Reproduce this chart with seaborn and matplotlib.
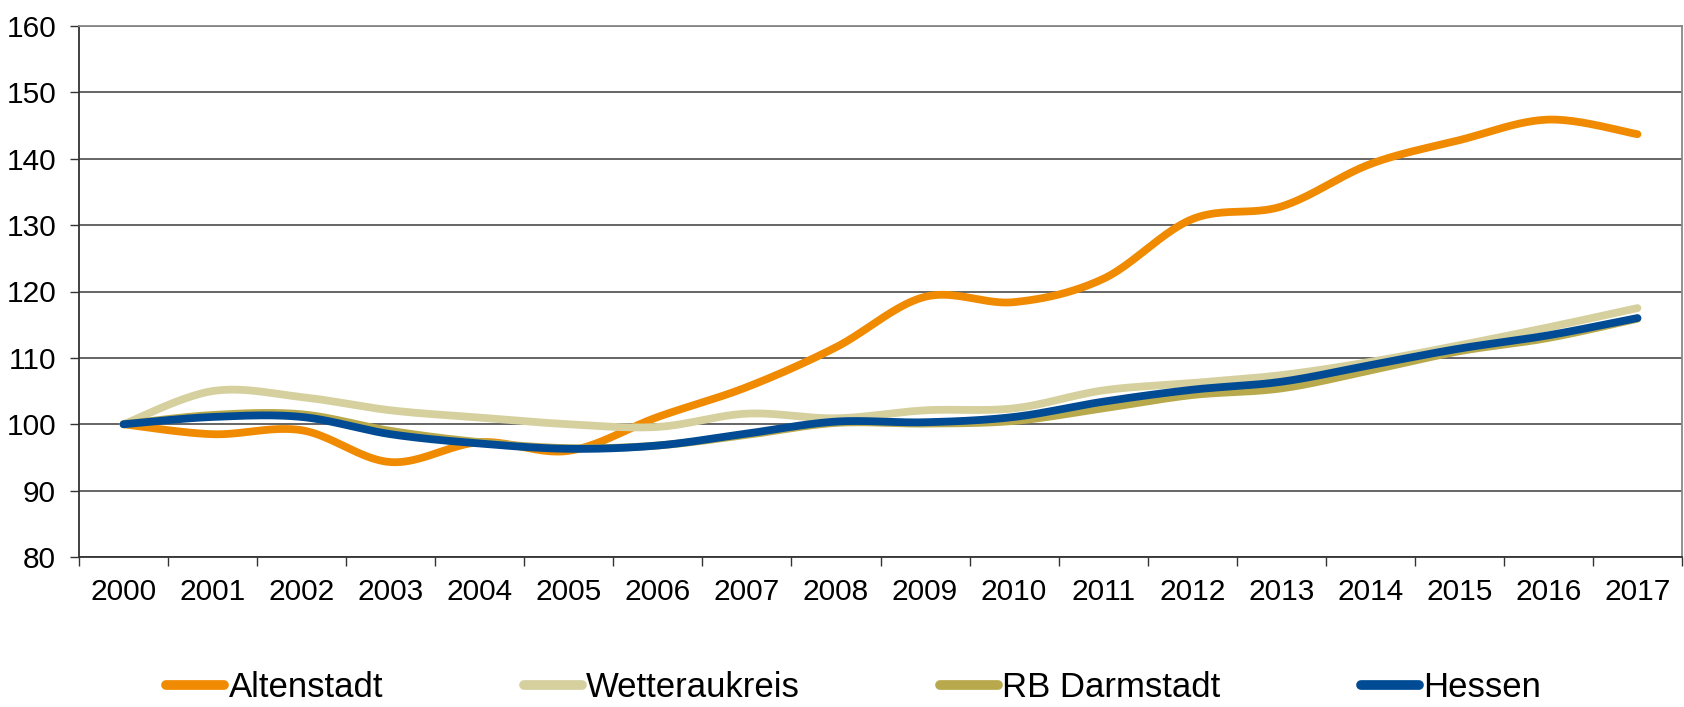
import numpy as np
import pandas as pd
import matplotlib
matplotlib.use("Agg")
import matplotlib.pyplot as plt
import seaborn as sns

# Index values (2000 = 100)
years = [str(y) for y in range(2000, 2018)]
altenstadt = [100.0, 98.5, 99.1, 94.3, 97.3, 96.0, 101.1, 105.6, 111.6, 119.2,
              118.4, 121.9, 130.9, 132.8, 139.2, 142.8, 145.9, 143.7]
wetteraukreis = [100.0, 105.0, 104.1, 102.1, 101.0, 100.0, 99.6, 101.6, 100.9, 102.1,
                 102.4, 105.1, 106.2, 107.4, 109.4, 111.9, 114.6, 117.5]
rb_darmstadt = [100.0, 101.4, 101.5, 99.0, 97.3, 96.4, 96.8, 98.4, 100.2, 100.1,
                100.5, 102.4, 104.4, 105.4, 108.1, 111.0, 113.0, 115.9]
hessen = [100.0, 101.1, 101.1, 98.5, 97.1, 96.3, 96.8, 98.6, 100.4, 100.3,
          101.1, 103.4, 105.2, 106.4, 108.9, 111.4, 113.4, 116.0]

series_names = ["Altenstadt", "Wetteraukreis", "RB Darmstadt", "Hessen"]
series_values = [altenstadt, wetteraukreis, rb_darmstadt, hessen]
colors = ["#F08A00", "#D5D09E", "#B8A94C", "#004B93"]


def smooth_curve(values, steps=24):
    """Smoothed line through the points (cubic Bezier, Catmull-Rom tangents)."""
    p = np.column_stack([np.arange(len(values), dtype=float), np.asarray(values, float)])
    out = [p[0]]
    n = len(p)
    t = np.linspace(0, 1, steps + 1)[1:][:, None]
    for i in range(n - 1):
        p0 = p[i - 1] if i > 0 else p[i]
        p1, p2 = p[i], p[i + 1]
        p3 = p[i + 2] if i + 2 < n else p[i + 1]
        c1 = p1 + (p2 - p0) / 6.0
        c2 = p2 - (p3 - p1) / 6.0
        seg = ((1 - t) ** 3) * p1 + 3 * ((1 - t) ** 2) * t * c1 + 3 * (1 - t) * t ** 2 * c2 + t ** 3 * p2
        out.extend(seg)
    return np.array(out)


frames = []
for name, vals in zip(series_names, series_values):
    c = smooth_curve(vals)
    frames.append(pd.DataFrame({"x": c[:, 0], "value": c[:, 1], "region": name}))
df = pd.concat(frames, ignore_index=True)

sns.set_theme(style="white")
plt.rcParams["font.family"] = ["Liberation Sans", "DejaVu Sans"]
plt.rcParams["text.color"] = "black"

fig = plt.figure(figsize=(16.84, 7.07), dpi=100)
ax = fig.add_axes([79 / 1684, 1 - 557 / 707, (1682 - 79) / 1684, (557 - 26) / 707])

sns.lineplot(data=df, x="x", y="value", hue="region", hue_order=series_names,
             palette=colors, sort=False, estimator=None, units="region",
             linewidth=5.6, ax=ax, legend=False)
for line in ax.get_lines():
    line.set_solid_capstyle("round")
    line.set_solid_joinstyle("round")

ax.set_xlim(-0.5, len(years) - 0.5)
ax.set_ylim(80, 160)
ax.set_yticks(range(80, 161, 10))
ax.set_xticks(range(len(years)))
ax.set_xticklabels(years)
ax.set_xticks(np.arange(-0.5, len(years), 1.0), minor=True)
ax.set_xlabel("")
ax.set_ylabel("")

ax.yaxis.grid(True, color="#3c3c3c", linewidth=1.1)
ax.xaxis.grid(False)
ax.set_axisbelow(True)

ax.tick_params(axis="y", which="major", left=True, length=6.5, width=1.0, color="#333333",
               pad=10, labelsize=21.5, labelcolor="black")
ax.tick_params(axis="x", which="major", bottom=False, length=0, pad=15,
               labelsize=21.5, labelcolor="black")
ax.tick_params(axis="x", which="minor", bottom=True, length=6.5, width=1.0, color="#333333")

for side in ("left", "bottom"):
    ax.spines[side].set_color("#333333")
    ax.spines[side].set_linewidth(1.3)
for side in ("top", "right"):
    ax.spines[side].set_color("#888888")
    ax.spines[side].set_linewidth(1.3)

handles = ax.get_lines()[:4]
leg = fig.legend(handles, series_names, loc="center", bbox_to_anchor=(0.507, 0.028),
                 ncol=4, frameon=False, fontsize=25, handlelength=1.67,
                 handletextpad=0.12, columnspacing=4.05, borderpad=0, borderaxespad=0,
                 labelcolor="black")
for h in leg.get_lines():
    h.set_linewidth(7)
    h.set_solid_capstyle("round")

fig.savefig("out.png", dpi=100, facecolor="white")
